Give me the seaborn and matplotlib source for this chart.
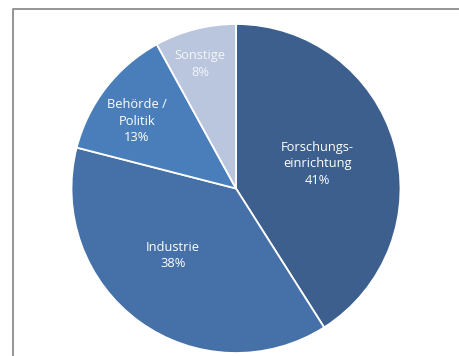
import matplotlib
matplotlib.use("Agg")
import matplotlib.pyplot as plt
from matplotlib.lines import Line2D
import numpy as np
import seaborn as sns

# Shares of respondents by institution type (percent)
categories = ["Forschungs-\neinrichtung", "Industrie", "Behörde /\nPolitik", "Sonstige"]
shares = [41, 38, 13, 8]
colors = ["#3C5F8E", "#4671A8", "#4A7EBB", "#B9C6DE"]

sns.set_theme(style="white")
plt.rcParams["font.family"] = ["Open Sans", "DejaVu Sans"]

W, H = 459, 356
fig = plt.figure(figsize=(W / 100, H / 100), dpi=100)
ax = fig.add_axes([0, 0, 1, 1])

cx, cy, r = 236, H - 188.5, 164.5
wedges, _ = ax.pie(
    shares, colors=colors, startangle=90, counterclock=False,
    center=(cx, cy), radius=r, frame=True,
    wedgeprops=dict(edgecolor="white", linewidth=1.3),
)
ax.set_xlim(0, W)
ax.set_ylim(0, H)
ax.set_aspect("equal")
ax.axis("off")

# label placement: radial fraction and angular offset from each wedge's mid-angle
label_radius = [0.52, 0.55, 0.735, 0.80]
label_shift = [2.0, -8.0, 3.0, 1.5]
text_colors = ["white", "white", "white", "#F4F6FA"]
for w, name, val, rf, dth, tc in zip(wedges, categories, shares,
                                     label_radius, label_shift, text_colors):
    mid = np.deg2rad((w.theta1 + w.theta2) / 2 + dth)
    x = cx + rf * r * np.cos(mid)
    y = cy + rf * r * np.sin(mid) - 2
    ax.text(x, y, f"{name}\n{val}%", ha="center", va="center",
            color=tc, fontsize=9.3, linespacing=1.35)

# chart area frame (top and left edges)
fig.add_artist(Line2D([12.5 / W, 12.5 / W, 1.0], [0.0, 1 - 8.5 / H, 1 - 8.5 / H],
                      transform=fig.transFigure, color="#8C8C8C", linewidth=1.3))

fig.savefig("out.png", dpi=100, facecolor="white")
